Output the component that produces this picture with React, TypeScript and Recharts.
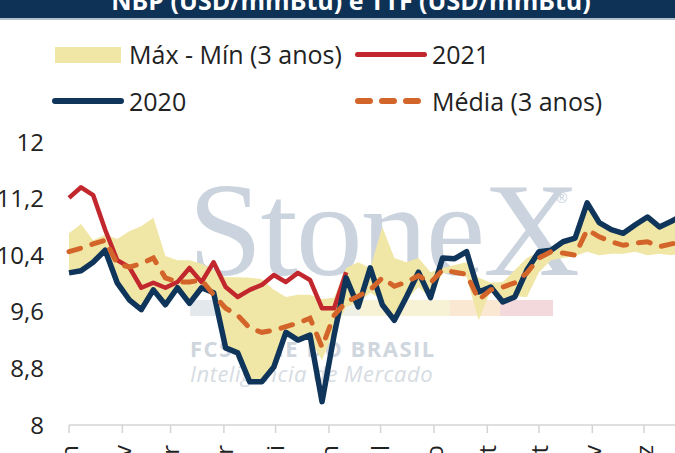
import React from 'react'
import { ComposedChart, Area, Line, XAxis, YAxis } from 'recharts'

// semanas do ano (índice 0 = primeira semana de janeiro)
const ano2020 = [
  10.15, 10.18, 10.3, 10.47, 10.01, 9.77, 9.63, 9.91, 9.7, 9.94, 9.72, 9.94, 9.87,
  9.09, 9.02, 8.61, 8.61, 8.82, 9.31, 9.2, 9.27, 8.33, 9.27, 10.08, 9.67, 10.22,
  9.7, 9.48, 9.81, 10.16, 9.8, 10.36, 10.35, 10.45, 9.88, 9.95, 9.74, 9.81, 10.19,
  10.45, 10.47, 10.59, 10.64, 11.14, 10.86, 10.76, 10.71, 10.83, 10.94, 10.8, 10.88, 10.97,
]

const ano2021 = [
  11.21, 11.36, 11.25, 10.76, 10.33, 10.23, 9.94, 10.01, 9.94, 10.02, 10.22, 10.02,
  10.3, 9.95, 9.81, 9.91, 9.98, 10.12, 10.02, 10.15, 10.05, 9.65, 9.65, 10.16,
]

const media3anos = [
  10.45, 10.5, 10.56, 10.61, 10.28, 10.23, 10.28, 10.36, 10.08, 10.02, 10.02, 10.05,
  9.84, 9.65, 9.55, 9.37, 9.31, 9.34, 9.39, 9.44, 9.51, 9.1, 9.55, 9.74, 9.82, 9.91,
  10.08, 9.96, 10.02, 10.11, 10.01, 10.19, 10.16, 10.13, 9.77, 9.91, 9.95, 10.01,
  10.15, 10.36, 10.45, 10.43, 10.4, 10.76, 10.66, 10.59, 10.54, 10.57, 10.59, 10.52, 10.56, 10.59,
]

const max3anos = [
  10.71, 10.84, 10.61, 10.69, 10.63, 10.74, 10.81, 10.93, 10.39, 10.33, 10.33, 10.28,
  10.19, 10.09, 10.09, 10.08, 10.06, 9.91, 9.81, 9.84, 9.84, 9.78, 9.8, 10.22, 10.3,
  10.22, 10.8, 10.36, 10.3, 10.36, 10.16, 10.22, 10.26, 10.3, 10.08, 10.01, 10.02,
  10.19, 10.36, 10.45, 10.47, 10.59, 10.64, 11.11, 10.83, 10.73, 10.69, 10.8, 10.91, 10.77, 10.86, 10.94,
]

const min3anos = [
  10.16, 10.19, 10.3, 10.45, 10.02, 9.79, 9.65, 9.94, 9.72, 9.96, 9.75, 9.96, 9.89,
  9.12, 9.05, 8.64, 8.64, 8.85, 9.31, 9.2, 9.2, 8.92, 9.34, 9.67, 9.73, 9.87, 9.77,
  9.51, 9.77, 9.95, 9.8, 10.15, 10.15, 10.09, 9.48, 9.91, 9.77, 9.82, 9.81, 10.16,
  10.33, 10.36, 10.39, 10.45, 10.4, 10.42, 10.42, 10.45, 10.4, 10.42, 10.4, 10.43,
]

const meses = ['jan', 'fev', 'mar', 'abr', 'mai', 'jun', 'jul', 'ago', 'set', 'out', 'nov', 'dez']
const inicioMes = [0, 31, 59, 90, 120, 151, 181, 212, 243, 273, 304, 334]
const yTicks = [8, 8.8, 9.6, 10.4, 11.2, 12]

const data = ano2020.map((v, i) => ({
  semana: i,
  faixa: [min3anos[i], max3anos[i]],
  y2020: v,
  y2021: i < ano2021.length ? ano2021[i] : null,
  media: media3anos[i],
}))

const xTicks = inicioMes.map((d) => d / 7)

const NAVY = '#0f355a'
const RED = '#c1272d'
const ORANGE = '#d4652a'
const BAND = '#f0e6a5'
const FONT = "'Open Sans', sans-serif"

const MonthTick = (props: any) => {
  const { x, y, payload } = props
  const idx = xTicks.findIndex((t) => Math.abs(t - payload.value) < 0.01)
  return (
    <text
      x={x}
      y={y + 10}
      dy="0.36em"
      transform={`rotate(-90, ${x}, ${y + 10})`}
      textAnchor="end"
      fill="#222"
      fontSize={24}
      fontFamily={FONT}
    >
      {meses[idx]}
    </text>
  )
}

const legendText: React.CSSProperties = {
  position: 'absolute',
  fontSize: 25,
  lineHeight: '30px',
  color: '#222',
  fontFamily: FONT,
  whiteSpace: 'nowrap',
}

export default function App() {
  return (
    <div
      style={{
        position: 'fixed',
        left: 0,
        top: 0,
        width: 675,
        height: 453,
        overflow: 'hidden',
        background: '#fff',
        fontFamily: FONT,
      }}
    >
      {/* marca d'água */}
      <div style={{ position: 'absolute', left: 188, top: 155, fontFamily: "'Liberation Serif', serif", fontSize: 134, color: '#cbd4de', letterSpacing: -2, lineHeight: '150px' }}>
        StoneX
      </div>
      <div style={{ position: 'absolute', left: 556, top: 188, fontSize: 14, color: '#cbd4de' }}>®</div>
      <div style={{ position: 'absolute', left: 190, top: 300, width: 110, height: 16, background: '#e3e8ec' }} />
      <div style={{ position: 'absolute', left: 300, top: 300, width: 60, height: 16, background: '#eef0e6' }} />
      <div style={{ position: 'absolute', left: 360, top: 300, width: 90, height: 16, background: '#f7f1d6' }} />
      <div style={{ position: 'absolute', left: 450, top: 300, width: 50, height: 16, background: '#fbe8d2' }} />
      <div style={{ position: 'absolute', left: 500, top: 300, width: 53, height: 16, background: '#f3d9dc' }} />
      <div style={{ position: 'absolute', left: 190, top: 333, fontSize: 22, fontWeight: 700, color: '#cfd6de', letterSpacing: 1.5 }}>
        FCSTONE DO BRASIL
      </div>
      <div style={{ position: 'absolute', left: 190, top: 358, fontSize: 22, fontStyle: 'italic', color: '#d6dce2', letterSpacing: 0.5 }}>
        Inteligência de Mercado
      </div>

      {/* título */}
      <div style={{ position: 'absolute', left: 0, top: 0, width: 675, height: 18, background: '#0e3256', overflow: 'hidden' }}>
        <div style={{ position: 'absolute', left: 0, width: 702, top: -17, textAlign: 'center', color: '#fff', fontWeight: 700, fontSize: 25, lineHeight: '34px', whiteSpace: 'nowrap' }}>
          NBP (USD/mmBtu) e TTF (USD/mmBtu)
        </div>
      </div>
      <div style={{ position: 'absolute', left: 0, top: 18, width: 675, height: 2, background: '#b3c1cf' }} />

      {/* legenda */}
      <div style={{ position: 'absolute', left: 55, top: 47, width: 66, height: 16, background: BAND }} />
      <div style={{ ...legendText, left: 129, top: 39 }}>Máx - Mín (3 anos)</div>
      <div style={{ position: 'absolute', left: 355, top: 52, width: 72, height: 5, borderRadius: 3, background: RED }} />
      <div style={{ ...legendText, left: 432, top: 39 }}>2021</div>
      <div style={{ position: 'absolute', left: 52, top: 98, width: 72, height: 6, borderRadius: 3, background: NAVY }} />
      <div style={{ ...legendText, left: 129, top: 86 }}>2020</div>
      <svg style={{ position: 'absolute', left: 350, top: 95 }} width={80} height={12}>
        <line x1={8} y1={6} x2={70} y2={6} stroke={ORANGE} strokeWidth={6} strokeDasharray="12 12" strokeLinecap="round" />
      </svg>
      <div style={{ ...legendText, left: 432, top: 86 }}>Média (3 anos)</div>

      <div style={{ position: 'absolute', left: 0, top: 0 }}>
        <ComposedChart
          width={700}
          height={500}
          data={data}
          margin={{ top: 142, right: 16.45, left: 0, bottom: 0 }}
        >
          <XAxis
            dataKey="semana"
            type="number"
            domain={[0, 51]}
            ticks={xTicks}
            interval={0}
            height={75}
            axisLine={{ stroke: '#d4d4d4', strokeWidth: 1.5 }}
            tickLine={{ stroke: '#d4d4d4', strokeWidth: 1.5 }}
            tickSize={8}
            tick={<MonthTick />}
          />
          <YAxis
            type="number"
            domain={[8, 12]}
            ticks={yTicks}
            interval={0}
            width={69}
            axisLine={false}
            tickLine={false}
            tickSize={0}
            tickMargin={25}
            tick={{ fill: '#222', fontSize: 24, fontFamily: FONT }}
            tickFormatter={(v: number) => String(v).replace('.', ',')}
          />
          <Area
            type="linear"
            dataKey="faixa"
            fill={BAND}
            fillOpacity={1}
            stroke="none"
            isAnimationActive={false}
            activeDot={false}
          />
          <Line
            type="linear"
            dataKey="y2021"
            stroke={RED}
            strokeWidth={4.5}
            dot={false}
            strokeLinejoin="round"
            isAnimationActive={false}
          />
          <Line
            type="linear"
            dataKey="y2020"
            stroke={NAVY}
            strokeWidth={5.5}
            dot={false}
            strokeLinejoin="round"
            isAnimationActive={false}
          />
          <Line
            type="linear"
            dataKey="media"
            stroke={ORANGE}
            strokeWidth={5}
            strokeDasharray="12 12"
            strokeLinecap="round"
            dot={false}
            isAnimationActive={false}
          />
        </ComposedChart>
      </div>
    </div>
  )
}
